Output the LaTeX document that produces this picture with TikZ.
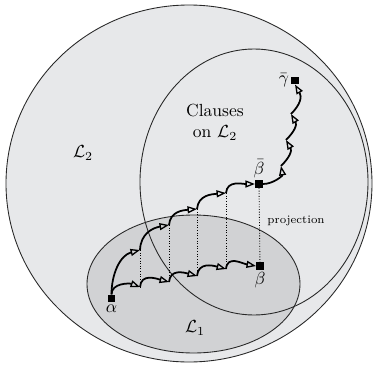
\documentclass[tikz,border=0pt]{standalone}
\usetikzlibrary{arrows.meta,positioning}
\definecolor{bigfill}{RGB}{231,232,234}
\definecolor{lonefill}{RGB}{209,210,212}
\definecolor{edgegray}{RGB}{40,40,40}
\begin{document}
\begin{tikzpicture}[x=0.57pt,y=0.57pt,
  region/.style={draw=edgegray,line width=0.5pt},
  sq/.style={fill=black,draw=none,minimum size=4.2pt,inner sep=0pt},
  lab/.style={inner sep=1pt},
  chain/.style={line width=1pt,-{Triangle[open,length=5.4pt,width=4pt,line width=0.75pt]}},
  proj/.style={densely dotted,line width=0.5pt}]
\useasboundingbox (0,0) rectangle (374,365);
% regions
\fill[bigfill] (189,181.5) ellipse [x radius=183, y radius=178.5];
\draw[region] (189,181.5) ellipse [x radius=183, y radius=178.5];
\fill[lonefill] (193.5,81) ellipse [x radius=106.5, y radius=69];
\draw[region] (193.5,81) ellipse [x radius=106.5, y radius=69];
\draw[region] (254,183) ellipse [x radius=114, y radius=133];
% texts
\node[lab] (tL2) at (83,212) {$\mathcal{L}_2$};
\node[lab] (tL1) at (195,37) {$\mathcal{L}_1$};
\node[lab,align=center] (tcl) at (215,243) {Clauses\\on $\mathcal{L}_2$};
% squares
\node[sq] (a) at (111.5,66.5) {};
\node[sq] (b) at (260,99) {};
\node[sq] (bb) at (259,181) {};
\node[sq] (g) at (295,284.5) {};
\node[lab,below=0pt of a] (la) {$\alpha$};
\node[lab,below=0pt of b] (lb) {$\beta$};
\node[lab,above=0pt of bb] (lbb) {$\bar\beta$};
\node[lab,left=0pt of g] (lg) {$\bar\gamma$};
% chain points
\coordinate (l1) at (140,78);
\coordinate (l2) at (169,83);
\coordinate (l3) at (197,89);
\coordinate (l4) at (226,96);
\coordinate (u1) at (140,115);
\coordinate (u2) at (169,140);
\coordinate (u3) at (197,156);
\coordinate (u4) at (226,172);
\coordinate (v1) at (281,199);
\coordinate (v2) at (286,225);
\coordinate (v3) at (291,251);
% projections
\draw[proj] (u1) -- (l1);
\draw[proj] (u2) -- (l2);
\draw[proj] (u3) -- (l3);
\draw[proj] (u4) -- (l4);
\draw[proj] (bb) -- (b) node[pos=0.45,right=1pt,font=\fontsize{6.5}{8}\selectfont] (tp) {projection};
% lower chain
\draw[chain] (a.north) to[out=90,in=160] (l1);
\draw[chain] (l1) to[out=85,in=165,looseness=1.2] (l2);
\draw[chain] (l2) to[out=85,in=165,looseness=1.2] (l3);
\draw[chain] (l3) to[out=85,in=165,looseness=1.2] (l4);
\draw[chain] (l4) to[out=85,in=170,looseness=1.2] (b.west);
% upper chain
\draw[chain] (a.north) to[out=90,in=195] (u1);
\draw[chain] (u1) to[out=88,in=190,looseness=1.1] (u2);
\draw[chain] (u2) to[out=85,in=185,looseness=1.1] (u3);
\draw[chain] (u3) to[out=85,in=185,looseness=1.1] (u4);
\draw[chain] (u4) to[out=85,in=180,looseness=1.1] (bb.west);
% vertical chain
\draw[chain] (bb.east) to[out=0,in=-80] (v1);
\draw[chain] (v1) to[out=45,in=-60,looseness=1.2] (v2);
\draw[chain] (v2) to[out=45,in=-60,looseness=1.2] (v3);
\draw[chain] (v3) to[out=45,in=-60,looseness=1.2] (g.south);
\end{tikzpicture}
\end{document}
